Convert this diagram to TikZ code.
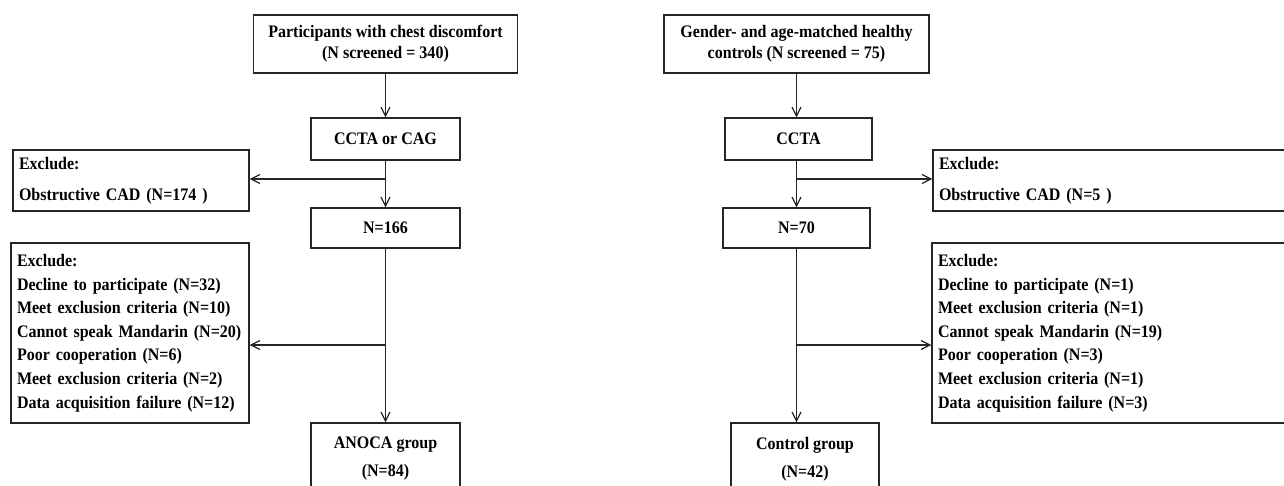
\documentclass[tikz,border=0pt]{standalone}
\usepackage{fontspec}
\setmainfont{Liberation Serif}[FakeStretch=0.91]
\usetikzlibrary{positioning, arrows.meta}

\begin{document}
\begin{tikzpicture}[x=1pt, y=-1pt,
    box/.style={draw=black!85, line width=1.2pt, align=center, inner sep=0pt,
      font=\fontsize{17.6}{21}\selectfont\bfseries},
    exclbox/.style={box, align=left, inner xsep=6pt,
      font=\fontsize{17.6}{23.6}\selectfont\bfseries},
    flow/.style={draw=black!85, line width=1.2pt, -{Straight Barb[length=9pt, width=9pt]}}
  ]
  \useasboundingbox (0,0) rectangle (1284,485);
  \clip (0,0) rectangle (1284,485);

  % -- 1. LEFT COLUMN (patients) --
  \node[box, minimum width=264pt, minimum height=58pt] (screenP) at (385.5,44)
    {Participants with chest discomfort\\(N screened = 340)};
  \node[box, minimum width=149pt, minimum height=42pt] (imgP) at (385.5,139) {CCTA or CAG};
  \node[box, minimum width=149pt, minimum height=40pt] (restP) at (385.5,228) {N=166};
  \node[box, minimum width=149pt, minimum height=72pt,
    font=\fontsize{17.6}{28}\selectfont\bfseries] (anoca) at (385.5,459) {ANOCA group\\(N=84)};

  \node[exclbox, text width=224pt, minimum height=61pt,
    font=\fontsize{17.6}{31}\selectfont\bfseries] (exclCadP) at (131,180.5)
    {Exclude:\\Obstructive CAD (N=174 )};
  \node[exclbox, text width=226pt, minimum height=180pt] (exclP) at (130,333)
    {Exclude:\\
     Decline to participate (N=32)\\
     Meet exclusion criteria (N=10)\\
     Cannot speak Mandarin (N=20)\\
     Poor cooperation (N=6)\\
     Meet exclusion criteria (N=2)\\
     Data acquisition failure (N=12)};

  \draw[flow] (screenP) -- (imgP);
  \draw[flow] (imgP) -- (restP);
  \draw[flow] (restP) -- (anoca);
  \coordinate (brP1) at (385.5,179);
  \coordinate (brP2) at (385.5,345);
  \draw[flow] (brP1) -- (brP1 -| exclCadP.east);
  \draw[flow] (brP2) -- (brP2 -| exclP.east);

  % -- 2. RIGHT COLUMN (controls) --
  \node[box, minimum width=265pt, minimum height=58pt] (screenC) at (796.5,44)
    {Gender- and age-matched healthy\\controls (N screened = 75)};
  \node[box, minimum width=147pt, minimum height=42pt] (imgC) at (798.5,139) {CCTA};
  \node[box, minimum width=147pt, minimum height=40pt] (restC) at (796.5,228) {N=70};
  \node[box, minimum width=148pt, minimum height=72pt,
    font=\fontsize{17.6}{28}\selectfont\bfseries] (control) at (805,459) {Control group\\(N=42)};

  \node[exclbox, text width=368pt, minimum height=61pt,
    font=\fontsize{17.6}{31}\selectfont\bfseries] (exclCadC) at (1123,180.5)
    {Exclude:\\Obstructive CAD (N=5 )};
  \node[exclbox, text width=368pt, minimum height=180pt] (exclC) at (1122,333)
    {Exclude:\\
     Decline to participate (N=1)\\
     Meet exclusion criteria (N=1)\\
     Cannot speak Mandarin (N=19)\\
     Poor cooperation (N=3)\\
     Meet exclusion criteria (N=1)\\
     Data acquisition failure (N=3)};

  \draw[flow] (screenC.south) -- (screenC.south |- imgC.north);
  \draw[flow] (screenC.south |- imgC.south) -- (screenC.south |- restC.north);
  \draw[flow] (restC) -- (restC.south |- control.north);
  \coordinate (brC1) at (796.5,179);
  \coordinate (brC2) at (796.5,345);
  \draw[flow] (brC1) -- (brC1 -| exclCadC.west);
  \draw[flow] (brC2) -- (brC2 -| exclC.west);
\end{tikzpicture}
\end{document}
